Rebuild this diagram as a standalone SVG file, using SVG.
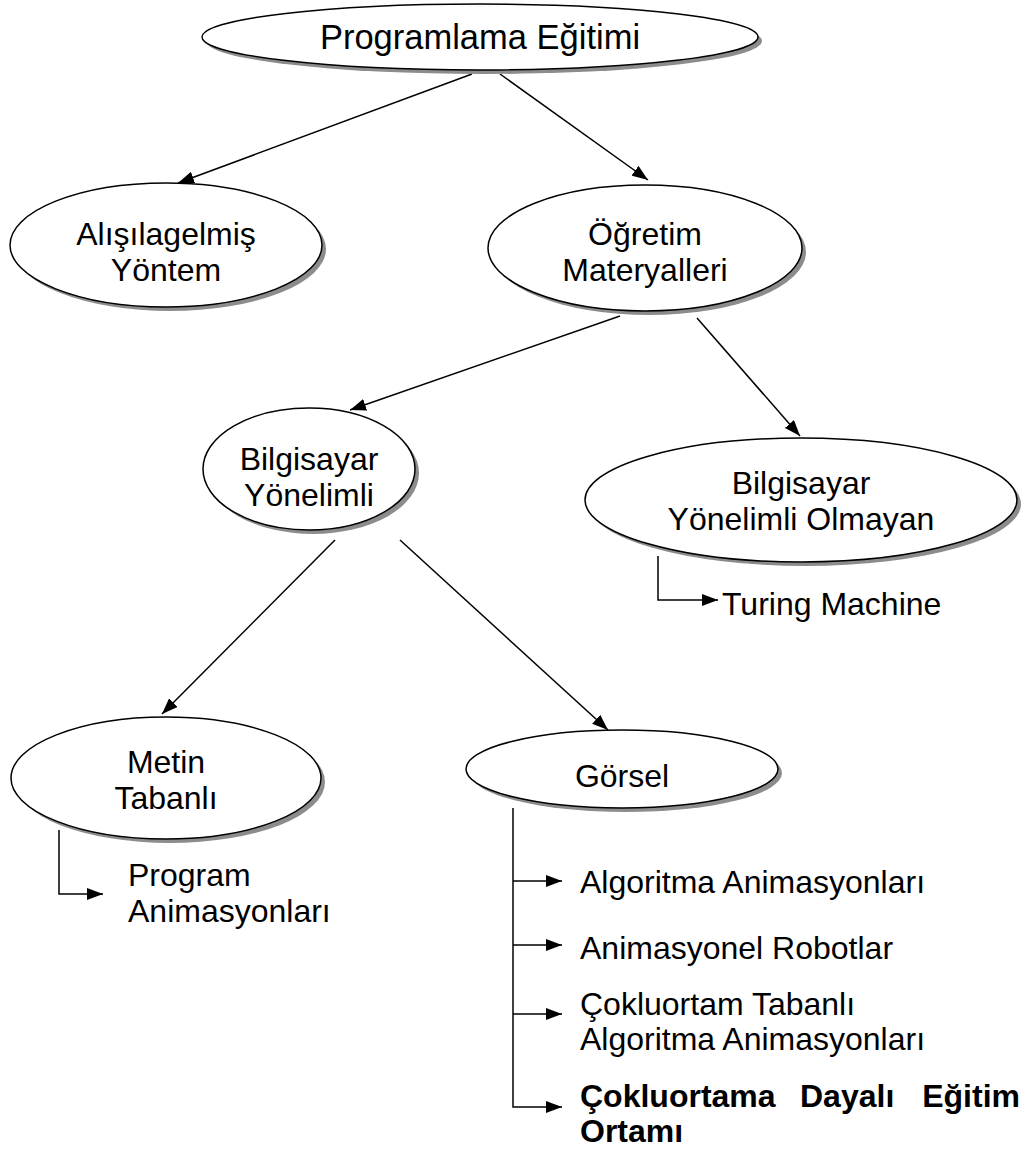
<svg xmlns="http://www.w3.org/2000/svg" width="1032" height="1153" viewBox="0 0 1032 1153">
<defs>
<style>
.sh{fill:#8c8c8c;}
.el{fill:#fff;stroke:#000;stroke-width:1.5;}
.t{font-family:"Liberation Sans",Arial,sans-serif;font-size:32px;fill:#000;}
.c{text-anchor:middle;}
.b{font-weight:bold;}
.ln{stroke:#000;stroke-width:1.5;fill:none;}
</style>
<marker id="ah" viewBox="0 0 16 12" refX="16" refY="6" markerWidth="16" markerHeight="12" markerUnits="userSpaceOnUse" orient="auto">
<path d="M0,0 L16,6 L0,12 Z" fill="#000"/>
</marker>
</defs>
<rect width="1032" height="1153" fill="#fff"/>
<g id="connectors">
<line class="ln" x1="472" y1="74" x2="178" y2="183" marker-end="url(#ah)"/>
<line class="ln" x1="500" y1="74" x2="648" y2="180" marker-end="url(#ah)"/>
<line class="ln" x1="620" y1="316" x2="350" y2="410" marker-end="url(#ah)"/>
<line class="ln" x1="697" y1="318" x2="800" y2="436" marker-end="url(#ah)"/>
<line class="ln" x1="335" y1="540" x2="162" y2="714" marker-end="url(#ah)"/>
<line class="ln" x1="400" y1="540" x2="608" y2="730" marker-end="url(#ah)"/>
<polyline class="ln" points="658,556 658,600 718,600" marker-end="url(#ah)"/>
<polyline class="ln" points="59,830 59,894 103,894" marker-end="url(#ah)"/>
<line class="ln" x1="513" y1="808" x2="513" y2="1106"/>
<line class="ln" x1="513" y1="881" x2="562" y2="881" marker-end="url(#ah)"/>
<line class="ln" x1="513" y1="945" x2="562" y2="945" marker-end="url(#ah)"/>
<line class="ln" x1="513" y1="1014" x2="562" y2="1014" marker-end="url(#ah)"/>
<polyline class="ln" points="513,1106 513,1107 562,1107" marker-end="url(#ah)"/>
</g>
<g id="n-programlama">
<ellipse class="sh" cx="484" cy="41" rx="278" ry="33"/>
<ellipse class="el" cx="480" cy="37" rx="278" ry="33"/>
<text class="t c" x="480" y="49" style="font-size:34.5px">Programlama Eğitimi</text>
</g>
<g id="n-alisilagelmis">
<ellipse class="sh" cx="170" cy="249" rx="156" ry="62"/>
<ellipse class="el" cx="166" cy="245" rx="156" ry="62"/>
<text class="t c" x="166" y="245">Alışılagelmiş</text>
<text class="t c" x="166" y="281">Yöntem</text>
</g>
<g id="n-ogretim">
<ellipse class="sh" cx="649" cy="252" rx="157" ry="63"/>
<ellipse class="el" cx="645" cy="248" rx="157" ry="63"/>
<text class="t c" x="645" y="245">Öğretim</text>
<text class="t c" x="645" y="281">Materyalleri</text>
</g>
<g id="n-bilgisayar-yonelimli">
<ellipse class="sh" cx="313" cy="473" rx="106" ry="61"/>
<ellipse class="el" cx="309" cy="469" rx="106" ry="61"/>
<text class="t c" x="309" y="470">Bilgisayar</text>
<text class="t c" x="309" y="506">Yönelimli</text>
</g>
<g id="n-bilgisayar-yonelimli-olmayan">
<ellipse class="sh" cx="805" cy="504" rx="216" ry="62"/>
<ellipse class="el" cx="801" cy="500" rx="216" ry="62"/>
<text class="t c" x="801" y="494">Bilgisayar</text>
<text class="t c" x="801" y="530">Yönelimli Olmayan</text>
</g>
<g id="n-turing">
<text class="t" x="722" y="615">Turing Machine</text>
</g>
<g id="n-metin">
<ellipse class="sh" cx="170" cy="782" rx="155" ry="61"/>
<ellipse class="el" cx="166" cy="778" rx="155" ry="61"/>
<text class="t c" x="166" y="773">Metin</text>
<text class="t c" x="166" y="809">Tabanlı</text>
</g>
<g id="n-program-animasyonlari">
<text class="t" x="128" y="886">Program</text>
<text class="t" x="128" y="922">Animasyonları</text>
</g>
<g id="n-gorsel">
<ellipse class="sh" cx="626" cy="773" rx="156" ry="39"/>
<ellipse class="el" cx="622" cy="769" rx="156" ry="39"/>
<text class="t c" x="622" y="787">Görsel</text>
</g>
<g id="n-algoritma">
<text class="t" x="580" y="893">Algoritma Animasyonları</text>
</g>
<g id="n-robotlar">
<text class="t" x="580" y="959">Animasyonel Robotlar</text>
</g>
<g id="n-cokluortam">
<text class="t" x="580" y="1015">Çokluortam Tabanlı</text>
<text class="t" x="580" y="1050">Algoritma Animasyonları</text>
</g>
<g id="n-cokluortama">
<text class="t b" x="580" y="1107">Çokluortama</text>
<text class="t b" x="800" y="1107">Dayalı</text>
<text class="t b" x="1020" y="1107" text-anchor="end">Eğitim</text>
<text class="t b" x="580" y="1142">Ortamı</text>
</g>
</svg>
